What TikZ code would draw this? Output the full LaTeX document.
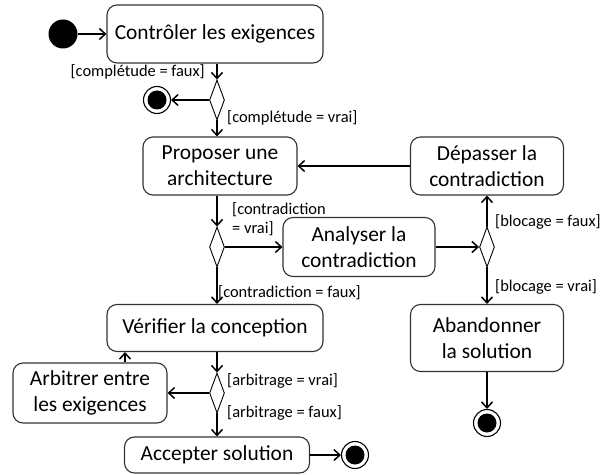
\documentclass[tikz,border=0pt]{standalone}
\usepackage{fontspec}
\setmainfont{Carlito}
\usetikzlibrary{arrows.meta,shapes.geometric}
\tikzset{
  actbox/.style={draw=black!80, line width=1.1bp, rounded corners=10bp, align=center, font=\fontsize{21.5}{26}\selectfont, inner sep=0pt},
  decis/.style={diamond, draw=black, line width=0.9bp, inner sep=0pt, minimum width=15bp, minimum height=40bp},
  flow/.style={line width=1.8bp, -{Straight Barb[length=6bp,width=11bp,line width=1.5bp]}},
  guard/.style={font=\fontsize{16.5}{19}\selectfont, inner sep=0pt},
  initnode/.style={circle, fill=black, minimum size=29bp, inner sep=0pt},
  finalnode/.style={circle, draw=black, line width=1.1bp, minimum size=27bp, inner sep=0pt,
     path picture={\fill (path picture bounding box.center) circle (9.5bp);}},
}
\begin{document}
\begin{tikzpicture}[x=1bp,y=-1bp]
\useasboundingbox (0,0) rectangle (613,475);
% nodes
\node[initnode] (init) at (63,34) {};
\node[actbox, minimum width=216bp, minimum height=58bp] (ctrl) at (215,34) {Contrôler les exigences};
\node[decis] (d1) at (217,100) {};
\node[finalnode] (f1) at (157,100) {};
\node[actbox, minimum width=154bp, minimum height=58bp] (prop) at (220,166) {Proposer une\\architecture};
\node[actbox, minimum width=153bp, minimum height=58bp] (dep) at (487,166) {Dépasser la\\contradiction};
\node[decis] (d2) at (217,247) {};
\node[actbox, minimum width=152bp, minimum height=59bp] (ana) at (359,247) {Analyser la\\contradiction};
\node[decis] (d3) at (487,247) {};
\node[actbox, minimum width=216bp, minimum height=47bp] (ver) at (215,328) {Vérifier la conception};
\node[actbox, minimum width=154bp, minimum height=60bp] (arb) at (90,393) {Arbitrer entre\\les exigences};
\node[decis] (d4) at (217,393) {};
\node[actbox, minimum width=185bp, minimum height=36bp] (acc) at (217,455) {Accepter solution};
\node[finalnode] (f2) at (355,455) {};
\node[actbox, minimum width=153bp, minimum height=67bp] (aban) at (487,338) {Abandonner\\la solution};
\node[finalnode] (f3) at (487,423) {};
% guards
\node[guard, anchor=east] (g1) at (205,72) {[complétude = faux]};
\node[guard, anchor=west] (g2) at (227,118) {[complétude = vrai]};
\node[guard, anchor=west, align=left] (g3) at (232,219) {[contradiction\\= vrai]};
\node[guard, anchor=west] (g4) at (218,293) {[contradiction = faux]};
\node[guard, anchor=west] (g5) at (495,222) {[blocage = faux]};
\node[guard, anchor=west] (g6) at (495,287) {[blocage = vrai]};
\node[guard, anchor=west] (g7) at (227,381) {[arbitrage = vrai]};
\node[guard, anchor=west] (g8) at (227,413) {[arbitrage = faux]};
% flows
\draw[flow] (init) -- (ctrl);
\draw[flow] (ctrl.south -| d1) -- (d1.north);
\draw[flow] (d1.west) -- (f1);
\draw[flow] (d1.south) -- (d1.south |- prop.north);
\draw[flow] (prop.south -| d2) -- (d2.north);
\draw[flow] (d2.east) -- (ana.west);
\draw[flow] (ana.east) -- (d3.west);
\draw[flow] (d3.north) -- (dep.south);
\draw[flow] (dep.west) -- (prop.east);
\draw[flow] (d3.south) -- (aban.north);
\draw[flow] (aban.south) -- (f3);
\draw[flow] (d2.south) -- (d2.south |- ver.north);
\draw[flow] (ver.south -| d4) -- (d4.north);
\draw[flow] (d4.west) -- (arb.east);
\draw[flow] (arb.north -| 125,0) -- (ver.south -| 125,0);
\draw[flow] (d4.south) -- (acc.north -| d4);
\draw[flow] (acc.east) -- (f2);
\end{tikzpicture}
\end{document}
